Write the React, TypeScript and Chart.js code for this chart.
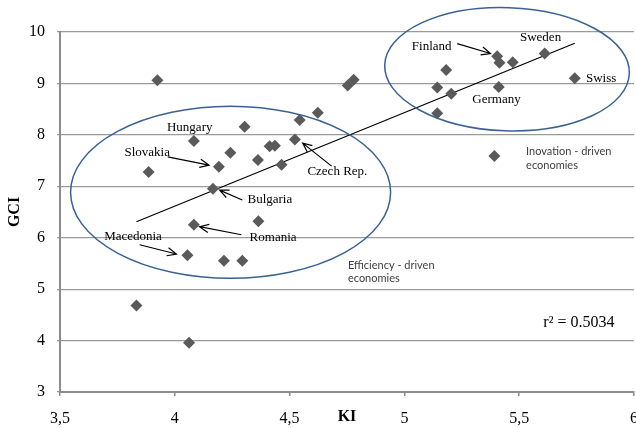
import { useEffect, useRef } from 'react';
import { Chart, registerables } from 'chart.js';

Chart.register(...registerables);

const SERIF = '"Liberation Serif", "Times New Roman", serif';
const SANS = 'Lato, "Open Sans", sans-serif';

// Knowledge index (KI) vs. global competitiveness index (GCI), one point per country
const kiValues = [
  3.924, 4.083, 3.886, 4.192, 4.242, 4.304, 4.362, 4.413, 4.436, 4.465, 4.523, 4.544,
  4.623, 4.166, 4.753, 4.779, 5.182, 5.143, 5.204, 5.143, 5.404, 5.414, 5.472, 5.611,
  5.742, 5.411, 5.392, 4.083, 4.364, 4.055, 4.214, 4.294, 3.833, 4.062,
];
const gciValues = [
  9.06, 7.88, 7.28, 7.38, 7.65, 8.16, 7.51, 7.78, 7.79, 7.42, 7.91, 8.29,
  8.43, 6.95, 8.96, 9.07, 9.26, 8.92, 8.80, 8.42, 9.53, 9.40, 9.41, 9.58,
  9.10, 8.93, 7.59, 6.25, 6.32, 5.66, 5.55, 5.55, 4.68, 3.96,
];

// Linear trend line end points
const trendKi = [3.833, 5.742];
const trendGci = [6.31, 9.78];

// Axis ticks
const xTickValues = [3.5, 4, 4.5, 5, 5.5, 6];
const xTickLabels = ['3,5', '4', '4,5', '5', '5,5', '6'];
const yTickValues = [3, 4, 5, 6, 7, 8, 9, 10];

// Country captions (data units)
const countryNames = ['Hungary', 'Slovakia', 'Bulgaria', 'Czech Rep.', 'Finland', 'Sweden', 'Swiss', 'Germany', 'Macedonia', 'Romania'];
const countryKi = [4.065, 3.880, 4.414, 4.708, 5.119, 5.593, 5.857, 5.401, 3.818, 4.428];
const countryGci = [8.136, 7.650, 6.751, 7.282, 9.722, 9.891, 9.087, 8.693, 6.019, 6.008];

// Arrows from a caption to its point (data units)
const arrowFromKi = [3.969, 4.294, 4.683, 5.230, 3.847, 4.290];
const arrowFromGci = [7.573, 6.732, 7.392, 9.775, 5.864, 6.058];
const arrowToKi = [4.149, 4.195, 4.557, 5.375, 4.007, 4.108];
const arrowToGci = [7.412, 6.926, 7.839, 9.581, 5.683, 6.214];

// Group outlines: centre, half-widths (data units) and tilt (radians)
const groupCentreKi = [4.243, 5.447];
const groupCentreGci = [6.884, 9.276];
const groupHalfKi = [0.697, 0.533];
const groupHalfGci = [1.672, 1.198];
const groupTilt = [0, 0.035];

// Group notes
const groupNoteLines = [['Efficiency - driven', 'economies'], ['Inovation - driven', 'economies']];
const groupNoteKi = [4.754, 5.530];
const groupNoteGci = [5.470, 7.670];

const rSquaredText = 'r² = 0.5034';
const rSquaredKi = 5.760;
const rSquaredGci = 4.350;

const notesPlugin = {
  id: 'notes',
  afterDatasetsDraw(chart: any) {
    const { ctx } = chart;
    const x = chart.scales.x;
    const y = chart.scales.y;
    const px = (v: number) => x.getPixelForValue(v);
    const py = (v: number) => y.getPixelForValue(v);
    ctx.save();

    // group ellipses
    ctx.strokeStyle = '#3a6291';
    ctx.lineWidth = 1.5;
    for (let i = 0; i < groupCentreKi.length; i++) {
      const cx = px(groupCentreKi[i]);
      const cy = py(groupCentreGci[i]);
      const rx = Math.abs(px(groupCentreKi[i] + groupHalfKi[i]) - cx);
      const ry = Math.abs(py(groupCentreGci[i] + groupHalfGci[i]) - cy);
      ctx.beginPath();
      ctx.ellipse(cx, cy, rx, ry, groupTilt[i], 0, Math.PI * 2);
      ctx.stroke();
    }

    // arrows
    ctx.strokeStyle = '#000';
    ctx.lineWidth = 1.2;
    for (let i = 0; i < arrowFromKi.length; i++) {
      const x1 = px(arrowFromKi[i]);
      const y1 = py(arrowFromGci[i]);
      const x2 = px(arrowToKi[i]);
      const y2 = py(arrowToGci[i]);
      const a = Math.atan2(y2 - y1, x2 - x1);
      const head = 10;
      const spread = 0.42;
      ctx.beginPath();
      ctx.moveTo(x1, y1);
      ctx.lineTo(x2, y2);
      ctx.moveTo(x2 - head * Math.cos(a - spread), y2 - head * Math.sin(a - spread));
      ctx.lineTo(x2, y2);
      ctx.lineTo(x2 - head * Math.cos(a + spread), y2 - head * Math.sin(a + spread));
      ctx.stroke();
    }

    // country captions
    ctx.fillStyle = '#000';
    ctx.font = `13px ${SERIF}`;
    ctx.textAlign = 'center';
    ctx.textBaseline = 'middle';
    for (let i = 0; i < countryNames.length; i++) {
      ctx.fillText(countryNames[i], px(countryKi[i]), py(countryGci[i]));
    }

    // group notes
    ctx.fillStyle = '#404040';
    ctx.font = `11px ${SANS}`;
    ctx.textAlign = 'left';
    for (let i = 0; i < groupNoteLines.length; i++) {
      groupNoteLines[i].forEach((line, j) => {
        ctx.fillText(line, px(groupNoteKi[i]), py(groupNoteGci[i]) + j * 13.3);
      });
    }

    // coefficient of determination
    ctx.fillStyle = '#000';
    ctx.font = `16px ${SERIF}`;
    ctx.textAlign = 'center';
    ctx.fillText(rSquaredText, px(rSquaredKi), py(rSquaredGci));

    ctx.restore();
  },
};

export default function App() {
  const canvasRef = useRef<HTMLCanvasElement | null>(null);

  useEffect(() => {
    const canvas = canvasRef.current;
    if (!canvas) return;
    const points = kiValues.map((k, i) => ({ x: k, y: gciValues[i] }));
    const trend = trendKi.map((k, i) => ({ x: k, y: trendGci[i] }));

    const chart = new Chart(canvas, {
      type: 'scatter',
      data: {
        datasets: [
          {
            label: 'Trend',
            data: trend,
            showLine: true,
            borderColor: '#000',
            borderWidth: 1.2,
            pointRadius: 0,
            order: 2,
          },
          {
            label: 'Countries',
            data: points,
            pointStyle: 'rectRot',
            pointRadius: 6,
            backgroundColor: '#5a5a5a',
            borderWidth: 0,
            order: 1,
          },
        ],
      },
      options: {
        responsive: false,
        animation: false,
        devicePixelRatio: 1,
        layout: { padding: { top: 32, right: 6, left: 0, bottom: 0 } },
        plugins: {
          legend: { display: false },
          tooltip: { enabled: false },
        },
        events: [],
        scales: {
          x: {
            type: 'linear',
            min: 3.5,
            max: 6,
            afterBuildTicks: (s: any) => {
              s.ticks = xTickValues.map((v) => ({ value: v }));
            },
            afterFit: (s: any) => {
              s.height = 36;
              s.paddingLeft = 0;
              s.paddingRight = 0;
            },
            ticks: {
              callback: (v: any) => xTickLabels[xTickValues.indexOf(Number(v))] ?? '',
              font: { family: SERIF, size: 16 },
              color: '#000',
              padding: 13,
              maxRotation: 0,
              autoSkip: false,
            },
            grid: { drawOnChartArea: false, drawTicks: true, tickLength: 4, color: '#8c8c8c', lineWidth: 1.5 },
            border: { color: '#8c8c8c', width: 2 },
            title: {
              display: true,
              text: 'KI',
              font: { family: SERIF, size: 16, weight: 'bold' },
              color: '#000',
              padding: { top: 0, bottom: 2 },
            },
          },
          y: {
            type: 'linear',
            min: 3,
            max: 10,
            afterBuildTicks: (s: any) => {
              s.ticks = yTickValues.map((v) => ({ value: v }));
            },
            afterFit: (s: any) => {
              s.width = 60;
              s.paddingTop = 0;
              s.paddingBottom = 0;
            },
            ticks: {
              font: { family: SERIF, size: 16 },
              color: '#000',
              padding: 12,
            },
            grid: { color: '#9a9a9a', lineWidth: 1.2, tickLength: 3 },
            border: { color: '#8c8c8c', width: 2 },
            title: {
              display: true,
              text: 'GCI',
              font: { family: SERIF, size: 16, weight: 'bold' },
              color: '#000',
              padding: { top: 5, bottom: 0 },
            },
          },
        },
      },
      plugins: [notesPlugin],
    } as any);

    return () => chart.destroy();
  }, []);

  return (
    <div
      style={{
        position: 'fixed',
        left: 0,
        top: 0,
        width: 636,
        height: 428,
        overflow: 'hidden',
        background: '#fff',
      }}
    >
      <canvas ref={canvasRef} width={640} height={428} style={{ display: 'block' }} />
    </div>
  );
}
